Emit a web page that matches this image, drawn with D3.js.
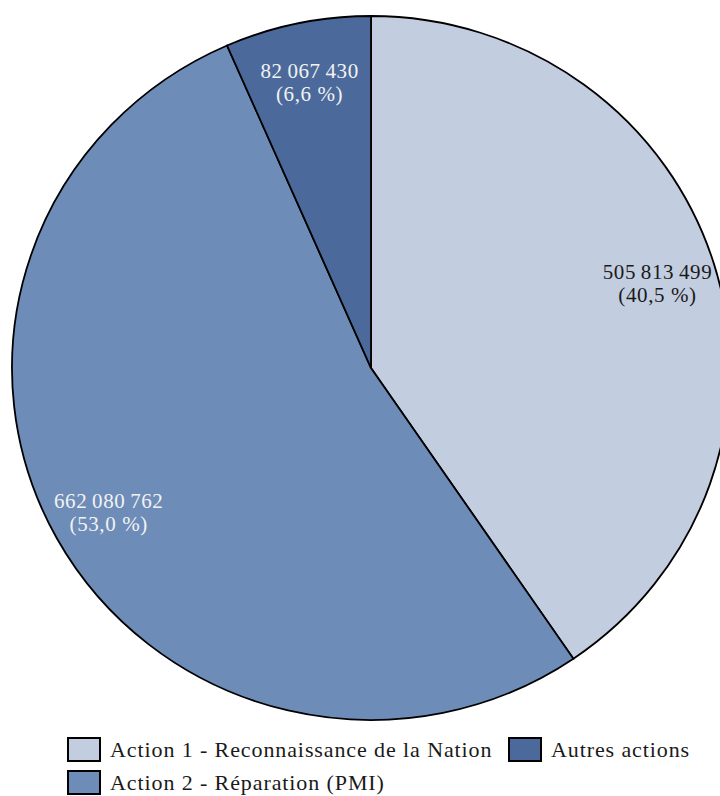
<!DOCTYPE html>
<html>
<head>
<meta charset="utf-8">
<script src="https://cdn.jsdelivr.net/npm/d3@7"></script>
<style>
  body { margin: 0; background: #fff; }
</style>
</head>
<body>
<div id="chart"></div>
<script>
var categories = ["Action 1 - Reconnaissance de la Nation", "Action 2 - Réparation (PMI)", "Autres actions"];
var values = [505813499, 662080762, 82067430];
var valueLabels = ["505\u2009813\u2009499", "662\u2009080\u2009762", "82\u2009067\u2009430"];
var pctLabels = ["(40,5 %)", "(53,0 %)", "(6,6 %)"];
var colors = ["#c3cde0", "#6d8cb8", "#4b6a9b"];
var textColors = ["#1a1a1a", "#f2f2f2", "#f2f2f2"];

var w = 720, h = 796;
var cx = 371, cy = 368;
var r = 352, sx = 359 / 352;

var svg = d3.select("#chart")
    .append("svg")
    .attr("width", w)
    .attr("height", h);

var pie = d3.pie().sort(null).value(function(d) { return d; });
var arcs = pie(values);

var arc = d3.arc().innerRadius(0).outerRadius(r);
var labelArc = d3.arc().innerRadius(294).outerRadius(294);

var g = svg.append("g")
    .attr("transform", "translate(" + cx + "," + cy + ") scale(" + sx + ",1)");

g.selectAll("path")
    .data(arcs)
    .enter()
    .append("path")
    .attr("d", arc)
    .attr("fill", function(d, i) { return colors[i]; })
    .attr("stroke", "#000")
    .attr("stroke-width", 1.8)
    .attr("vector-effect", "non-scaling-stroke");

var labels = svg.append("g")
    .attr("transform", "translate(" + cx + "," + cy + ")");

labels.selectAll("text")
    .data(arcs)
    .enter()
    .append("text")
    .attr("text-anchor", "middle")
    .attr("font-family", "Liberation Serif, serif")
    .attr("font-size", "21px")
    .attr("letter-spacing", "0.6px")
    .attr("fill", function(d, i) { return textColors[i]; })
    .attr("transform", function(d) {
        var c = labelArc.centroid(d);
        return "translate(" + (c[0] * sx) + "," + c[1] + ")";
    })
    .each(function(d, i) {
        var t = d3.select(this);
        t.append("tspan").attr("x", 0).attr("y", -2).text(valueLabels[i]);
        t.append("tspan").attr("x", 0).attr("y", 21).text(pctLabels[i]);
    });

// legend
var legendPos = [[68, 738], [68, 771], [509, 738]];
var legend = svg.selectAll("g.legend")
    .data(categories)
    .enter()
    .append("g")
    .attr("class", "legend")
    .attr("transform", function(d, i) { return "translate(" + legendPos[i][0] + "," + legendPos[i][1] + ")"; });

legend.append("rect")
    .attr("x", 0)
    .attr("y", 0)
    .attr("width", 32)
    .attr("height", 23)
    .attr("fill", function(d, i) { return colors[i]; })
    .attr("stroke", "#000")
    .attr("stroke-width", 2);

legend.append("text")
    .attr("x", 42)
    .attr("y", 19)
    .attr("font-family", "Liberation Serif, serif")
    .attr("font-size", "22px")
    .attr("letter-spacing", "0.9px")
    .attr("fill", "#1a1a1a")
    .text(function(d) { return d; });
</script>
</body>
</html>
